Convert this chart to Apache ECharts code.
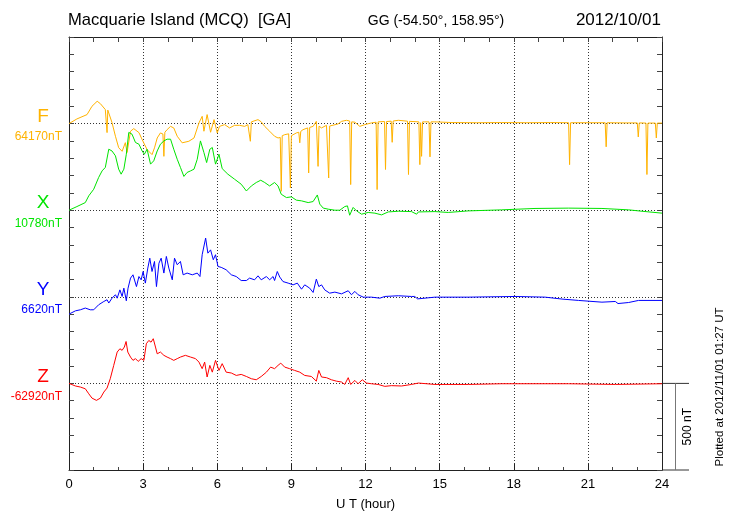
<!DOCTYPE html>
<html>
<head>
<meta charset="utf-8">
<script src="https://cdn.jsdelivr.net/npm/echarts@6/dist/echarts.min.js"></script>
<style>html,body{margin:0;padding:0;background:#fff}#c{width:730px;height:520px}</style>
</head>
<body>
<div id="c"></div>
<script>
// ---- data (hour, deviation in nT from the component baseline) ----
const xMin = 0, xMax = 24, xStep = 3;
const yMin = 0, yMax = 2500, yStep = 100, baseStep = 500;
const componentNames = ['F', 'X', 'Y', 'Z'];
const componentBases = ['64170nT', '10780nT', '6620nT', '-62920nT'];
const componentOffsets = [2000, 1500, 1000, 500];
const componentColors = ['#ffb300', '#00e400', '#0000ff', '#ff0000'];

const fData = [[0.00,0],[0.05,0],[0.32,27],[0.73,52],[0.93,100],[1.14,129],[1.27,115],[1.47,81],[1.52,78],[1.54,-52],[1.57,78],[1.61,77],[1.74,6],[1.88,-73],[2.01,-139],[2.15,-160],[2.28,-110],[2.35,-167],[2.49,-44],[2.62,-29],[2.83,-52],[2.96,-92],[3.16,-150],[3.36,-179],[3.46,-140],[3.57,-83],[3.70,-54],[3.80,-60],[3.84,-189],[3.88,-50],[3.97,-35],[4.11,-16],[4.24,-25],[4.38,-73],[4.58,-111],[4.85,-102],[5.06,-83],[5.26,4],[5.39,42],[5.46,-44],[5.59,52],[5.73,-50],[5.87,23],[6.00,-54],[6.09,-16],[6.30,-6],[6.50,-25],[6.70,-10],[6.90,-10],[7.11,-16],[7.24,-6],[7.30,-6],[7.34,-102],[7.38,10],[7.45,17],[7.65,23],[7.78,10],[7.92,-16],[8.12,-44],[8.32,-73],[8.46,-83],[8.55,-80],[8.59,-391],[8.63,-70],[8.73,-64],[8.89,-59],[8.92,-60],[8.96,-371],[9.00,-70],[9.07,-73],[9.20,-54],[9.30,-50],[9.34,-111],[9.38,-45],[9.47,-35],[9.66,-25],[9.70,-285],[9.74,-22],[9.88,-16],[10.01,13],[10.05,10],[10.08,-247],[10.12,-15],[10.22,-25],[10.42,-10],[10.47,-12],[10.51,-314],[10.55,-14],[10.62,-16],[10.89,-2],[11.03,13],[11.23,19],[11.36,15],[11.40,-352],[11.44,10],[11.57,8],[11.77,-16],[11.97,-6],[12.24,4],[12.43,8],[12.47,-381],[12.51,10],[12.58,13],[12.77,12],[12.81,-265],[12.85,12],[12.92,13],[13.04,14],[13.08,-108],[13.12,15],[13.33,19],[13.70,14],[13.74,-294],[13.78,13],[13.86,13],[14.16,10],[14.20,-237],[14.23,5],[14.27,-189],[14.31,10],[14.40,10],[14.57,10],[14.61,-192],[14.65,10],[14.81,10],[15.5,6],[16.5,5],[17.5,6],[18.5,5],[19.5,6],[20.22,5],[20.26,-237],[20.30,5],[21.0,5],[21.70,5],[21.74,-134],[21.78,5],[22.5,4],[23.00,4],[23.04,-77],[23.08,4],[23.35,3],[23.39,-294],[23.43,3],[23.73,3],[23.77,-83],[23.81,3],[24,3]];

const xData = [[0.00,0],[0.05,6],[0.32,21],[0.66,44],[0.80,83],[1.00,121],[1.20,189],[1.34,227],[1.47,247],[1.61,352],[1.74,342],[1.88,314],[2.01,237],[2.11,208],[2.22,237],[2.32,323],[2.42,449],[2.55,439],[2.69,391],[2.83,381],[2.96,342],[3.05,323],[3.16,352],[3.30,266],[3.43,285],[3.57,342],[3.70,381],[3.84,400],[3.97,410],[4.11,410],[4.24,352],[4.38,294],[4.51,247],[4.65,195],[4.78,218],[4.92,227],[5.06,237],[5.19,294],[5.32,400],[5.46,333],[5.57,275],[5.70,352],[5.80,362],[5.93,266],[6.07,323],[6.20,240],[6.43,208],[6.70,179],[6.97,150],[7.18,111],[7.38,140],[7.58,160],[7.76,173],[7.92,160],[8.12,140],[8.32,160],[8.46,140],[8.59,92],[8.80,73],[9.00,77],[9.20,58],[9.41,54],[9.68,44],[9.88,50],[10.05,88],[10.15,35],[10.29,12],[10.49,6],[10.76,0],[10.96,0],[11.16,21],[11.27,25],[11.36,-29],[11.50,16],[11.64,-4],[11.84,-23],[12.11,-13],[12.38,-17],[12.65,-27],[12.92,-10],[13.33,-6],[13.86,-8],[14.07,-23],[14.14,-10],[14.81,-8],[15.35,-13],[16.16,-4],[17.51,2],[18.86,10],[20.22,12],[21.57,10],[22.65,2],[23.19,-6],[24,-17]];

const yData = [[0.00,-100],[0.05,-100],[0.26,-81],[0.46,-75],[0.66,-65],[0.86,-75],[1.00,-75],[1.20,-46],[1.41,-27],[1.54,-17],[1.61,-36],[1.74,-8],[1.88,12],[1.95,-8],[2.06,40],[2.15,2],[2.22,50],[2.32,-23],[2.39,50],[2.49,108],[2.59,127],[2.73,59],[2.83,117],[2.92,98],[3.00,146],[3.09,79],[3.19,166],[3.27,223],[3.36,146],[3.46,204],[3.54,59],[3.64,194],[3.73,223],[3.84,137],[3.94,233],[4.04,166],[4.18,98],[4.27,223],[4.38,185],[4.51,204],[4.62,127],[4.78,137],[4.99,127],[5.19,137],[5.30,117],[5.39,243],[5.53,339],[5.62,252],[5.73,271],[5.84,214],[5.93,243],[6.03,175],[6.16,170],[6.36,156],[6.57,127],[6.77,117],[6.97,94],[7.18,94],[7.31,108],[7.51,98],[7.65,121],[7.78,98],[7.99,117],[8.12,98],[8.26,117],[8.32,94],[8.43,146],[8.53,114],[8.66,88],[8.87,79],[9.07,69],[9.24,79],[9.41,44],[9.54,69],[9.74,50],[9.88,25],[10.01,102],[10.11,59],[10.22,69],[10.35,40],[10.55,21],[10.76,27],[11.03,17],[11.30,35],[11.43,12],[11.57,31],[11.70,12],[11.91,-2],[12.24,-2],[12.58,-8],[12.78,2],[13.33,6],[13.86,2],[13.99,2],[14.11,-12],[14.81,-2],[16.16,-2],[18.05,2],[19.27,-2],[19.95,-13],[20.62,-21],[21.57,-31],[22.11,-27],[22.22,-39],[22.65,-33],[23.05,-21],[24,-21]];

const zData = [[0.00,0],[0.05,-2],[0.26,-15],[0.46,-21],[0.66,-31],[0.80,-60],[0.93,-85],[1.11,-98],[1.27,-85],[1.41,-50],[1.54,-27],[1.67,27],[1.81,104],[1.95,181],[2.06,200],[2.15,191],[2.24,210],[2.31,242],[2.38,181],[2.49,152],[2.59,133],[2.69,143],[2.80,127],[2.92,143],[3.03,133],[3.13,229],[3.23,248],[3.32,238],[3.41,258],[3.50,210],[3.57,171],[3.70,181],[3.84,162],[3.97,152],[4.11,143],[4.24,133],[4.38,143],[4.51,152],[4.71,162],[4.92,152],[5.12,143],[5.26,123],[5.39,85],[5.49,123],[5.59,37],[5.70,104],[5.80,65],[5.93,133],[6.07,75],[6.20,114],[6.36,65],[6.57,60],[6.77,46],[6.97,52],[7.18,40],[7.38,27],[7.58,21],[7.78,40],[7.99,65],[8.16,94],[8.32,85],[8.46,104],[8.57,117],[8.73,94],[8.93,85],[9.13,75],[9.34,65],[9.54,46],[9.81,40],[10.01,13],[10.11,75],[10.22,37],[10.42,33],[10.62,21],[10.82,13],[11.03,8],[11.16,-6],[11.30,33],[11.40,-6],[11.57,17],[11.70,-2],[11.87,21],[12.04,2],[12.24,-2],[12.51,-6],[12.78,-17],[13.05,-13],[13.46,-15],[13.86,-6],[14.14,2],[14.81,-6],[16.16,-6],[17.51,-2],[18.86,-2],[20.22,-2],[22.11,-6],[24,-2]];

const componentData = [fData, xData, yData, zData];

const FONT = '"Liberation Sans", Arial, Helvetica, sans-serif';
const chart = echarts.init(document.getElementById('c'), null, {renderer: 'canvas'});

const series = componentData.map((d, i) => ({
  type: 'line',
  name: componentNames[i],
  xAxisIndex: 0,
  yAxisIndex: 0,
  showSymbol: false,
  symbol: 'none',
  lineStyle: {color: componentColors[i], width: 1},
  itemStyle: {color: componentColors[i]},
  data: d.map(p => [p[0], p[1] + componentOffsets[i]]),
  z: 5
}));

const dotted = {color: '#333', width: 1, type: [1, 2]};

chart.setOption({
  animation: false,
  backgroundColor: '#fff',
  grid: {left: 69, right: 68, top: 37, bottom: 50, containLabel: false},
  xAxis: [
    {
      type: 'value', position: 'bottom', min: xMin, max: xMax, interval: xStep,
      axisLine: {show: true, onZero: false, lineStyle: {color: '#222', width: 1}},
      axisTick: {show: true, inside: true, length: 6, lineStyle: {color: '#222'}},
      minorTick: {show: true, splitNumber: 3, length: 3, lineStyle: {color: '#444'}},
      axisLabel: {color: '#000', fontFamily: FONT, fontSize: 13, margin: 8},
      splitLine: {show: true, lineStyle: dotted},
      name: 'U T (hour)', nameLocation: 'middle', nameGap: 28,
      nameTextStyle: {color: '#000', fontFamily: FONT, fontSize: 13}
    },
    {
      type: 'value', position: 'top', min: xMin, max: xMax, interval: 1,
      axisLine: {show: true, onZero: false, lineStyle: {color: '#222', width: 1}},
      axisTick: {show: true, inside: true, length: 5, lineStyle: {color: '#444'}},
      axisLabel: {show: false}, splitLine: {show: false}
    }
  ],
  yAxis: [
    {
      type: 'value', position: 'left', min: yMin, max: yMax, interval: yStep,
      axisLine: {show: true, onZero: false, lineStyle: {color: '#222', width: 1}},
      axisTick: {show: true, inside: true, length: 5, lineStyle: {color: '#444'}},
      axisLabel: {show: false}, splitLine: {show: false}
    },
    {
      type: 'value', position: 'right', min: yMin, max: yMax, interval: baseStep,
      axisLine: {show: true, onZero: false, lineStyle: {color: '#222', width: 1}},
      axisTick: {show: true, inside: true, length: 5, lineStyle: {color: '#444'}},
      minorTick: {show: true, splitNumber: 5, length: 5, lineStyle: {color: '#444'}},
      axisLabel: {show: false},
      splitLine: {show: true, lineStyle: dotted}
    }
  ],
  series: series
});

// ---- annotations positioned through the axes ----
const yPix = v => chart.convertToPixel({yAxisIndex: 0}, v);
const xPix = h => chart.convertToPixel({xAxisIndex: 0}, h);
const xl = xPix(xMin), xr = xPix(xMax);

const g = [];
g.push({type: 'text', x: xl - 1, y: 20, style: {text: 'Macquarie Island (MCQ)  [GA]', fontFamily: FONT, fontSize: 16.6, fill: '#000', textAlign: 'left', textVerticalAlign: 'middle'}});
g.push({type: 'text', x: 436, y: 21, style: {text: 'GG (-54.50°, 158.95°)', fontFamily: FONT, fontSize: 14, fill: '#000', textAlign: 'center', textVerticalAlign: 'middle'}});
g.push({type: 'text', x: xr - 1, y: 20, style: {text: '2012/10/01', fontFamily: FONT, fontSize: 17, fill: '#000', textAlign: 'right', textVerticalAlign: 'middle'}});

componentNames.forEach((n, i) => {
  const yb = yPix(componentOffsets[i]);
  g.push({type: 'text', x: 43, y: yb - 7, style: {text: n, fontFamily: FONT, fontSize: 19, fill: componentColors[i], textAlign: 'center', textVerticalAlign: 'middle'}});
  g.push({type: 'text', x: 62, y: yb + 13, style: {text: componentBases[i], fontFamily: FONT, fontSize: 12, fill: componentColors[i], textAlign: 'right', textVerticalAlign: 'middle'}});
});

// 500 nT scale bar
const ys0 = yPix(componentOffsets[3]);
const ys1 = yPix(componentOffsets[3] - baseStep);
g.push({type: 'line', shape: {x1: xr, y1: ys0, x2: xr + 27, y2: ys0}, style: {stroke: '#333', lineWidth: 1}});
g.push({type: 'line', shape: {x1: xr, y1: ys1, x2: xr + 27, y2: ys1}, style: {stroke: '#333', lineWidth: 1}});
g.push({type: 'line', shape: {x1: xr + 13.5, y1: ys0, x2: xr + 13.5, y2: ys1}, style: {stroke: '#777', lineWidth: 1}});
g.push({type: 'text', x: xr + 26, y: (ys0 + ys1) / 2, rotation: Math.PI / 2, style: {text: '500 nT', fontFamily: FONT, fontSize: 12, fill: '#000', textAlign: 'center', textVerticalAlign: 'middle'}});
g.push({type: 'text', x: 720, y: 387, rotation: Math.PI / 2, style: {text: 'Plotted at 2012/11/01 01:27 UT', fontFamily: FONT, fontSize: 11.5, fill: '#000', textAlign: 'center', textVerticalAlign: 'middle'}});

chart.setOption({graphic: g});
</script>
</body>
</html>
